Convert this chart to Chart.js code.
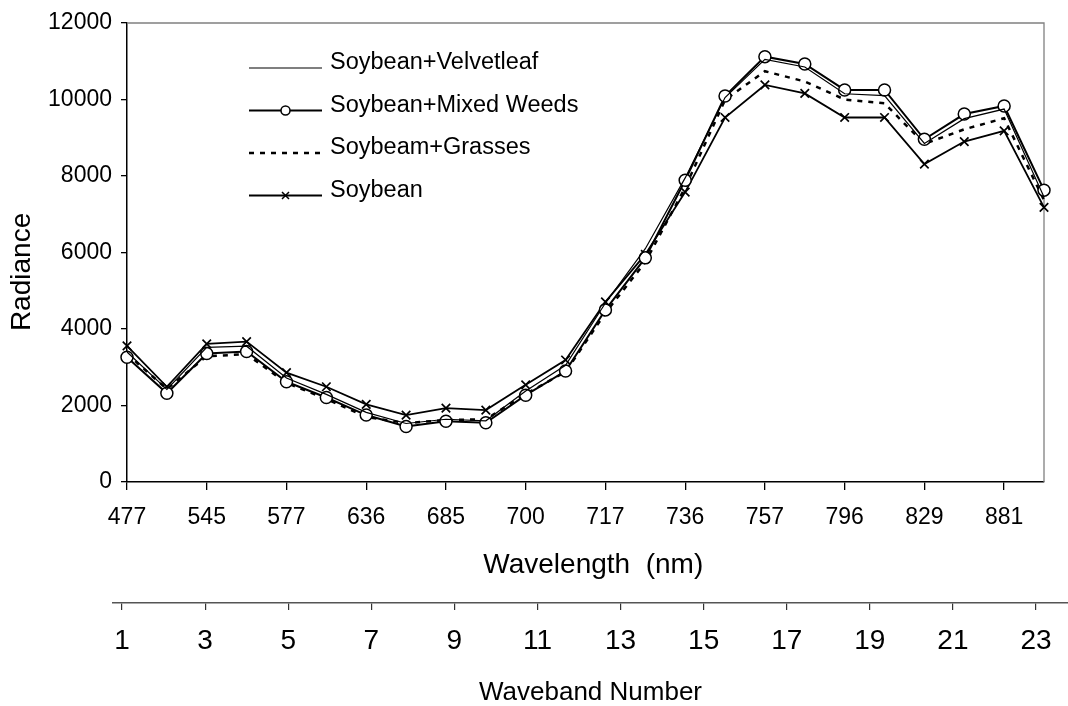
<!DOCTYPE html>
<html>
<head>
<meta charset="utf-8">
<title>Radiance by wavelength</title>
<script src="https://cdn.jsdelivr.net/npm/chart.js@4.4.1/dist/chart.umd.min.js"></script>
<style>
  html, body { margin: 0; padding: 0; background: #fff; }
  #wrap { width: 1068px; height: 706px; }
</style>
</head>
<body>
<div id="wrap"><canvas id="radianceChart" width="1068" height="706"></canvas></div>
<script>
// wavelength labels, only every other band is labelled on the axis
const wavelengths = ['477', '', '545', '', '577', '', '636', '', '685', '', '700', '',
                     '717', '', '736', '', '757', '', '796', '', '829', '', '881', ''];
const wavebandTicks = [1, 3, 5, 7, 9, 11, 13, 15, 17, 19, 21, 23];
const seriesNames = ['Soybean+Velvetleaf', 'Soybean+Mixed Weeds', 'Soybeam+Grasses', 'Soybean'];

const velvetleaf = [3400, 2420, 3520, 3550, 2720, 2290, 1820, 1530, 1640, 1600, 2380, 3050,
                    4680, 6100, 7950, 10050, 11050, 10850, 10150, 10100, 8850, 9500, 9750, 7450];
const mixedWeeds = [3260, 2320, 3360, 3410, 2620, 2210, 1750, 1450, 1590, 1550, 2270, 2900,
                    4500, 5860, 7890, 10090, 11120, 10930, 10250, 10250, 8960, 9620, 9830, 7630];
const grasses    = [3350, 2430, 3290, 3340, 2590, 2170, 1700, 1540, 1620, 1640, 2300, 2880,
                    4420, 5750, 7700, 9990, 10740, 10470, 10000, 9900, 8840, 9220, 9510, 7370];
const soybean    = [3560, 2490, 3610, 3670, 2860, 2490, 2030, 1750, 1930, 1880, 2540, 3190,
                    4710, 5950, 7580, 9530, 10380, 10160, 9530, 9530, 8310, 8900, 9180, 7180];

const FONT = "'Liberation Sans', Arial, Helvetica, sans-serif";
Chart.defaults.font.family = FONT;
Chart.defaults.color = '#000';

// grey top/right edge of the plot area
const frame = {
  id: 'frame',
  beforeDatasetsDraw(chart) {
    const { ctx, chartArea: a } = chart;
    ctx.save();
    ctx.strokeStyle = '#808080';
    ctx.lineWidth = 1.3;
    ctx.beginPath();
    ctx.moveTo(a.left, a.top);
    ctx.lineTo(a.right, a.top);
    ctx.lineTo(a.right, a.bottom);
    ctx.stroke();
    ctx.restore();
  }
};

// legend drawn inside the plot, line sample with marker in the middle
const insideLegend = {
  id: 'insideLegend',
  afterDatasetsDraw(chart) {
    const { ctx, chartArea: a } = chart;
    const x0 = a.left + 122, x1 = a.left + 195, tx = a.left + 203;
    ctx.save();
    ctx.font = '23.5px ' + FONT;
    ctx.textBaseline = 'middle';
    ctx.fillStyle = '#000';
    chart.data.datasets.forEach((ds, i) => {
      const y = a.top + 40 + i * 42.5;
      const ly = y + 5;
      ctx.strokeStyle = '#000';
      ctx.lineWidth = ds.borderWidth;
      ctx.setLineDash(ds.borderDash || []);
      ctx.beginPath();
      ctx.moveTo(x0, ly);
      ctx.lineTo(x1, ly);
      ctx.stroke();
      ctx.setLineDash([]);
      const mx = (x0 + x1) / 2;
      ctx.lineWidth = 1.5;
      if (ds.pointRadius > 0 && ds.pointStyle === 'circle') {
        ctx.beginPath();
        ctx.arc(mx, ly, 4.5, 0, Math.PI * 2);
        ctx.fillStyle = '#fff';
        ctx.fill();
        ctx.stroke();
        ctx.fillStyle = '#000';
      } else if (ds.pointRadius > 0 && ds.pointStyle === 'crossRot') {
        ctx.beginPath();
        ctx.moveTo(mx - 3.5, ly - 3.5); ctx.lineTo(mx + 3.5, ly + 3.5);
        ctx.moveTo(mx - 3.5, ly + 3.5); ctx.lineTo(mx + 3.5, ly - 3.5);
        ctx.stroke();
      }
      ctx.fillText(ds.label, tx, y);
    });
    ctx.restore();
  }
};

// the waveband axis is wider than the plot, stretch it after layout
const wavebandAxis = {
  id: 'wavebandAxis',
  afterLayout(chart) {
    const s = chart.scales.x2;
    s.left = 113;
    s.right = 1068;
    s.width = s.right - s.left;
    s.configure();
  }
};

const ctx = document.getElementById('radianceChart');
const chart = new Chart(ctx, {
  type: 'line',
  data: {
    labels: wavelengths,
    datasets: [
      {
        label: seriesNames[0], data: velvetleaf,
        borderColor: '#000', borderWidth: 1.2, pointRadius: 0, pointStyle: false
      },
      {
        label: seriesNames[1], data: mixedWeeds,
        borderColor: '#000', borderWidth: 2, pointStyle: 'circle', pointRadius: 6,
        pointBorderWidth: 1.5, pointBackgroundColor: '#fff', pointBorderColor: '#000'
      },
      {
        label: seriesNames[2], data: grasses,
        borderColor: '#000', borderWidth: 2.5, borderDash: [5, 6], pointRadius: 0, pointStyle: false
      },
      {
        label: seriesNames[3], data: soybean,
        borderColor: '#000', borderWidth: 1.8, pointStyle: 'crossRot', pointRadius: 6,
        pointBorderWidth: 1.7, pointBorderColor: '#000'
      }
    ]
  },
  options: {
    responsive: false,
    animation: false,
    devicePixelRatio: 1,
    layout: { padding: { top: 23, right: 24, left: 0, bottom: 0 } },
    plugins: { legend: { display: false }, tooltip: { enabled: false } },
    elements: { line: { tension: 0 } },
    scales: {
      x: {
        type: 'category',
        offset: false,
        weight: 0,
        grid: {
          drawOnChartArea: false, tickLength: 8, lineWidth: 1.3,
          tickColor: c => (wavelengths[c.index] ? '#000' : 'rgba(0,0,0,0)')
        },
        border: { color: '#000', width: 1.5 },
        ticks: { autoSkip: false, maxRotation: 0, padding: 14, font: { size: 23 } },
        title: {
          display: true, text: '  Wavelength  (nm)', font: { size: 28 },
          padding: { top: 0, bottom: 21 }
        },
        afterFit: s => { s.height = 121; }
      },
      x2: {
        type: 'linear',
        position: 'bottom',
        weight: 1,
        min: 0.783,
        max: 23.77,
        afterBuildTicks: s => { s.ticks = wavebandTicks.map(v => ({ value: v })); },
        grid: { drawOnChartArea: false, tickLength: 7, color: '#333', lineWidth: 1.2 },
        border: { color: '#555', width: 1.5 },
        ticks: { padding: 14, font: { size: 28 }, callback: v => String(v) },
        title: {
          display: true, text: 'Waveband Number', font: { size: 26 },
          padding: { top: 0, bottom: -2 }
        },
        afterFit: s => { s.height = 103; }
      },
      y: {
        min: 0,
        max: 12000,
        grid: { drawOnChartArea: false, tickLength: 6, color: '#000', lineWidth: 1.3 },
        border: { color: '#000', width: 1.5 },
        ticks: { stepSize: 2000, padding: 9, font: { size: 23 }, callback: v => String(v) },
        title: {
          display: true, text: 'Radiance     ', font: { size: 28 },
          padding: { top: 5, bottom: 0 }
        },
        afterFit: s => { s.width = 127; }
      }
    }
  },
  plugins: [frame, insideLegend, wavebandAxis]
});
</script>
</body>
</html>
